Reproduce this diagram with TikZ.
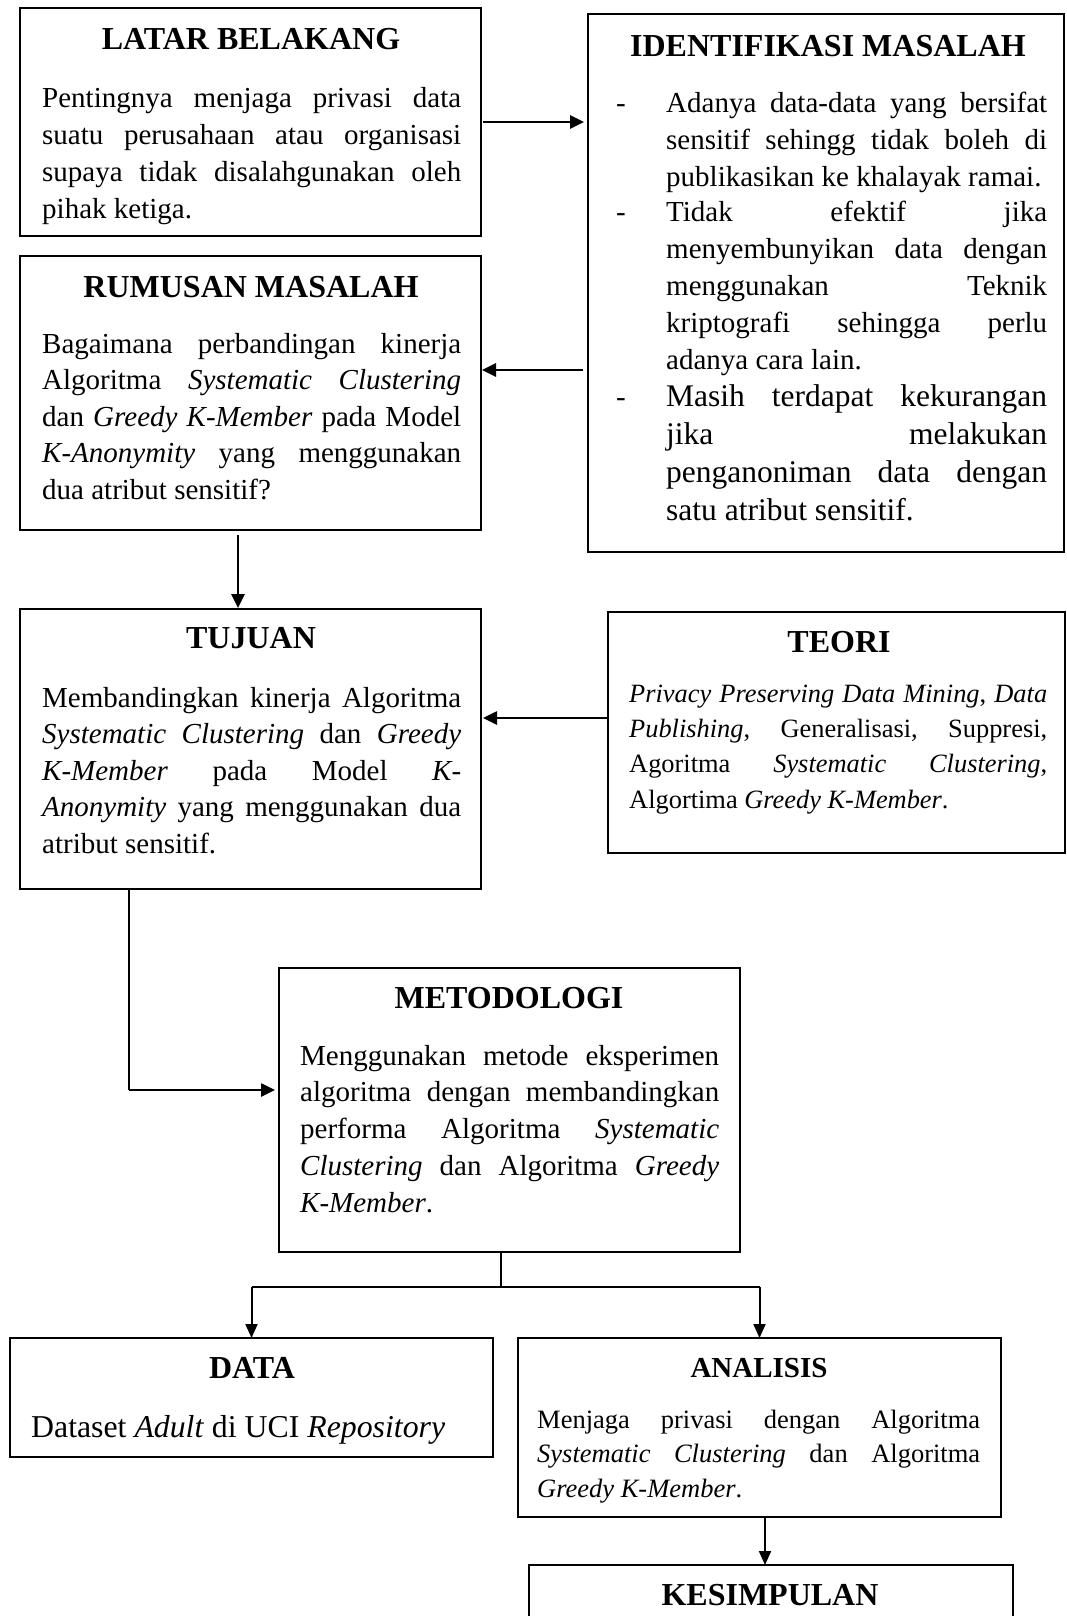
\documentclass[tikz,border=0pt]{standalone}
\usepackage{fontspec}
\setmainfont{Liberation Serif}
\usetikzlibrary{arrows.meta}
\newcommand\fsz[2]{\fontsize{#1}{#2}\selectfont}
\newcommand\jset{\tolerance=10000 \hyphenpenalty=10000 \exhyphenpenalty=10000 \frenchspacing}
\begin{document}
\begin{tikzpicture}[x=1pt,y=-1pt,
  box/.style={draw, line width=1.7pt, rectangle, inner sep=0pt, outer sep=0pt, anchor=north west},
  ttl/.style={font=\fsz{32}{38}\bfseries, anchor=base, inner sep=0pt},
  txt/.style={anchor=base west, inner sep=0pt, align=justify, execute at begin node=\jset},
  plain/.style={anchor=base west, inner sep=0pt},
  arr/.style={line width=2.6pt, -{Triangle[length=14pt,width=13pt]}},
  arrb/.style={line width=2pt, -{Triangle[length=14pt,width=12pt]}},
  ln/.style={line width=2pt}]
\useasboundingbox (0,0) rectangle (1066,1616);
\fill[white] (0,0) rectangle (1066,1616);
\clip (0,0) rectangle (1066,1616);

% boxes
\node[box, minimum width=461pt, minimum height=228pt] (latar) at (20,8) {};
\node[box, minimum width=461pt, minimum height=274pt] (rumusan) at (20,256) {};
\node[box, minimum width=476pt, minimum height=538pt] (ident) at (588,14) {};
\node[box, minimum width=461pt, minimum height=280pt] (tujuan) at (20,609) {};
\node[box, minimum width=457pt, minimum height=241pt] (teori) at (608,612) {};
\node[box, minimum width=461pt, minimum height=284pt] (meto) at (279,968) {};
\node[box, minimum width=483pt, minimum height=119pt] (data) at (10,1338) {};
\node[box, minimum width=483pt, minimum height=179pt] (analisis) at (518,1338) {};
\node[box, minimum width=484pt, minimum height=100pt] (kesimpulan) at (529,1565) {};

% titles
\node[ttl] (latarH) at (251,49.5) {LATAR BELAKANG};
\node[ttl] (rumH) at (251,297.5) {RUMUSAN MASALAH};
\node[ttl] (idH) at (828,56.5) {IDENTIFIKASI MASALAH};
\node[ttl] (tujH) at (251,648.5) {TUJUAN};
\node[ttl] (teoH) at (839,652.5) {TEORI};
\node[ttl] (metH) at (509,1008.5) {METODOLOGI};
\node[ttl] (dataH) at (252,1378.5) {DATA};
\node[ttl, font=\fsz{29}{35}\bfseries] (anaH) at (759,1377.5) {ANALISIS};
\node[ttl] (kesH) at (770,1605.5) {KESIMPULAN};

% body texts
\node[txt, text width=419pt, font=\fsz{29}{36.8}] (latarT) at (42,108) {Pentingnya menjaga privasi data\linebreak suatu perusahaan atau organisasi\linebreak supaya tidak disalahgunakan oleh\linebreak pihak ketiga.};

\node[txt, text width=381pt, font=\fsz{29}{36.6}] (id1) at (666,113) {\llap{\makebox[50pt][l]{-}}Adanya data-data yang bersifat\linebreak sensitif sehingg tidak boleh di\linebreak publikasikan ke khalayak ramai.};
\node[txt, text width=381pt, font=\fsz{29}{37.2}] (id2) at (666,221) {\llap{\makebox[50pt][l]{-}}Tidak efektif jika\linebreak menyembunyikan data dengan\linebreak menggunakan Teknik\linebreak kriptografi sehingga perlu\linebreak adanya cara lain.};
\node[txt, text width=381pt, font=\fsz{31.5}{38}] (id3) at (666,406) {\llap{\makebox[50pt][l]{\fsz{29}{36}-}}Masih terdapat kekurangan\linebreak jika melakukan\linebreak penganoniman data dengan\linebreak satu atribut sensitif.};

\node[txt, text width=419pt, font=\fsz{29}{36.5}] (rumT) at (42,353) {Bagaimana perbandingan kinerja\linebreak Algoritma \textit{Systematic Clustering}\linebreak dan \textit{Greedy K-Member} pada Model\linebreak \textit{K-Anonymity} yang menggunakan\linebreak dua atribut sensitif?};

\node[txt, text width=419pt, font=\fsz{29}{36.5}] (tujT) at (42,707) {Membandingkan kinerja Algoritma\linebreak \textit{Systematic Clustering} dan \textit{Greedy}\linebreak \textit{K-Member} pada Model \textit{K-}\linebreak \textit{Anonymity} yang menggunakan dua\linebreak atribut sensitif.};

\node[txt, text width=418pt, font=\fsz{26.4}{35.4}] (teoT) at (629,702) {\textit{Privacy Preserving Data Mining}, \textit{Data}\linebreak \textit{Publishing}, Generalisasi, Suppresi,\linebreak Agoritma \textit{Systematic Clustering},\linebreak Algortima \textit{Greedy K-Member}.};

\node[txt, text width=419pt, font=\fsz{29}{36.8}] (metT) at (300,1065) {Menggunakan metode eksperimen\linebreak algoritma dengan membandingkan\linebreak performa Algoritma \textit{Systematic}\linebreak \textit{Clustering} dan Algoritma \textit{Greedy}\linebreak \textit{K-Member}.};

\node[plain, font=\fsz{31.8}{38}] (dataT) at (31,1437.5) {Dataset \textit{Adult} di UCI \textit{Repository}};

\node[txt, text width=443pt, font=\fsz{26.5}{34.8}] (anaT) at (537,1428) {Menjaga privasi dengan Algoritma\linebreak \textit{Systematic Clustering} dan Algoritma\linebreak \textit{Greedy K-Member}.};

% connector helpers
\coordinate (c2) at (0,370);
\coordinate (c3) at (238,0);
\coordinate (c4) at (0,718);
\coordinate (c5) at (129,1090);
\coordinate (c6) at (501,1287);
\coordinate (c7) at (765,0);

% connectors
\draw[arr, shorten <=2pt, shorten >=4pt] (latar.east) -- (latar.east -| ident.west);
\draw[arr, shorten <=5pt, shorten >=1pt] (ident.west |- c2) -- (rumusan.east |- c2);
\draw[arr, shorten <=5pt, shorten >=1pt] (rumusan.south -| c3) -- (tujuan.north -| c3);
\draw[arr, shorten >=2pt] (teori.west |- c4) -- (tujuan.east |- c4);
\draw[ln] (tujuan.south -| c5) -- (c5);
\draw[arr, shorten >=4pt] (c5) -- (meto.west |- c5);
\draw[ln] (meto.south -| c6) -- (c6);
\draw[ln] (c6 -| data.north) -- (c6 -| analisis.north);
\draw[arrb] (c6 -| data.north) -- (data.north);
\draw[arrb] (c6 -| analisis.north) -- (analisis.north);
\draw[arrb] (analisis.south -| c7) -- (kesimpulan.north -| c7);
\end{tikzpicture}
\end{document}
